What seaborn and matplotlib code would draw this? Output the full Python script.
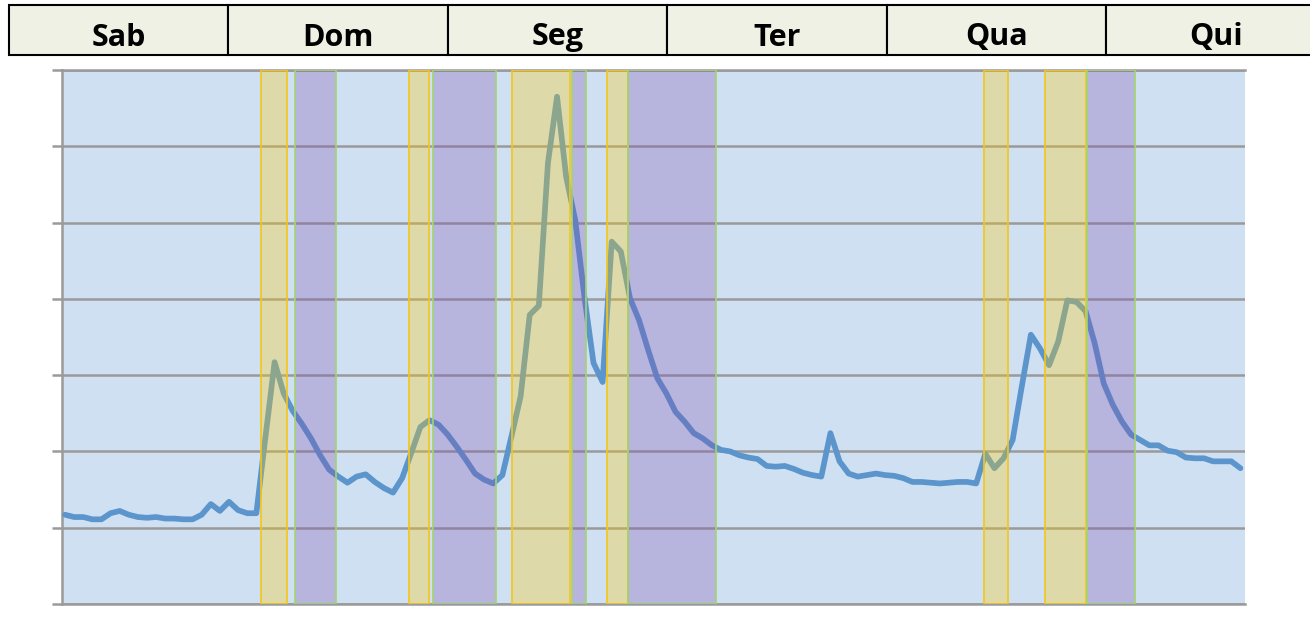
import numpy as np
import pandas as pd
import matplotlib
matplotlib.use("Agg")
import matplotlib.pyplot as plt
import seaborn as sns

# header days
days = ["Sab", "Dom", "Seg", "Ter", "Qua", "Qui"]

# line values, one per time step (grid units: 0..70)
values = [
    11.7, 11.4, 11.4, 11.1, 11.1, 11.9, 12.2, 11.7, 11.4, 11.3,
    11.4, 11.2, 11.2, 11.1, 11.1, 11.7, 13.1, 12.2, 13.4, 12.3,
    11.9, 11.9, 21.9, 31.7, 27.6, 25.3, 23.6, 21.7, 19.5, 17.6,
    16.7, 15.9, 16.7, 17.0, 16.0, 15.2, 14.6, 16.5, 19.8, 23.2,
    24.1, 23.5, 22.2, 20.6, 18.9, 17.1, 16.3, 15.8, 16.9, 22.0,
    27.2, 37.9, 39.1, 57.8, 66.5, 56.0, 50.3, 40.3, 31.6, 29.1,
    47.5, 46.2, 40.1, 37.2, 33.3, 29.6, 27.6, 25.2, 23.9, 22.4,
    21.7, 20.8, 20.2, 20.0, 19.5, 19.2, 19.0, 18.1, 18.0, 18.1,
    17.7, 17.2, 16.9, 16.7, 22.4, 18.7, 17.1, 16.7, 16.9, 17.1,
    16.9, 16.8, 16.5, 16.0, 16.0, 15.9, 15.8, 15.9, 16.0, 16.0,
    15.8, 19.7, 17.8, 19.1, 21.5, 28.5, 35.3, 33.5, 31.3, 34.4,
    39.8, 39.6, 38.4, 34.2, 28.9, 26.1, 23.9, 22.2, 21.5, 20.8,
    20.8, 20.1, 19.9, 19.2, 19.1, 19.1, 18.7, 18.7, 18.7, 17.8,
]

# shaded periods (start, end) in time steps
yellow_spans = [(21.5, 24.4), (37.8, 40.0), (49.1, 55.4), (59.5, 61.8),
                (100.9, 103.5), (107.6, 112.1)]
purple_spans = [(25.2, 29.7), (40.4, 47.3), (55.6, 57.2), (61.8, 71.4),
                (112.2, 117.4)]

sns.set_theme(style="white")
plt.rcParams["font.family"] = ["Open Sans", "DejaVu Sans"]

W, H = 1310, 617
CELL = 219.4  # header cell width in px
fig = plt.figure(figsize=(W / 100, H / 100), dpi=100)
fig.patch.set_facecolor("white")

# main chart
ax = fig.add_axes([62 / W, 13 / H, (1245 - 62) / W, (604 - 70) / H])
ax.set_facecolor("#CFE0F2")

df = pd.DataFrame({"t": np.arange(len(values)), "v": values})
sns.lineplot(data=df, x="t", y="v", ax=ax, color="#5B95CC", linewidth=4.1,
             solid_joinstyle="round", solid_capstyle="round", zorder=3)

for a, b in yellow_spans:
    ax.axvspan(a, b, facecolor=(1.0, 0.8, 0.0, 0.3), edgecolor="#F5C518",
               linewidth=1.2, zorder=4)
for a, b in purple_spans:
    ax.axvspan(a, b, facecolor=(0.51, 0.31, 0.69, 0.3), edgecolor="#A3D46E",
               linewidth=1.2, zorder=4)

ax.set_xlim(-0.33, 129.5)
ax.set_ylim(0, 70)
ax.set_yticks(np.arange(0, 71, 10))
ax.set_xticks([])
ax.set_yticklabels([])
ax.set_xlabel("")
ax.set_ylabel("")
ax.grid(axis="y", color="#9A9A9A", linewidth=1.8, zorder=1)
ax.set_axisbelow(True)
ax.tick_params(axis="y", length=7, width=1.8, color="#9A9A9A", left=True)
for side in ["left", "top", "bottom"]:
    ax.spines[side].set_visible(True)
    ax.spines[side].set_color("#9A9A9A")
    ax.spines[side].set_linewidth(1.8)
ax.spines["right"].set_visible(False)

# day header row
hdr = fig.add_axes([9 / W, (H - 55) / H, (W - 9) / W, 50 / H])
sns.barplot(x=days, y=[1] * len(days), ax=hdr, width=1.0, color="#EEF1E3",
            saturation=1, edgecolor="black", linewidth=1.5)
for p in hdr.patches:
    p.set_clip_on(False)
for i, d in enumerate(days):
    hdr.text(i, 0.19, d, ha="center", va="baseline", fontsize=22,
             fontweight="bold", color="black")
hdr.set_xlim(-0.5, -0.5 + (W - 9) / CELL)
hdr.set_ylim(0, 1)
hdr.axis("off")

fig.savefig("out.png", dpi=100, facecolor="white")
